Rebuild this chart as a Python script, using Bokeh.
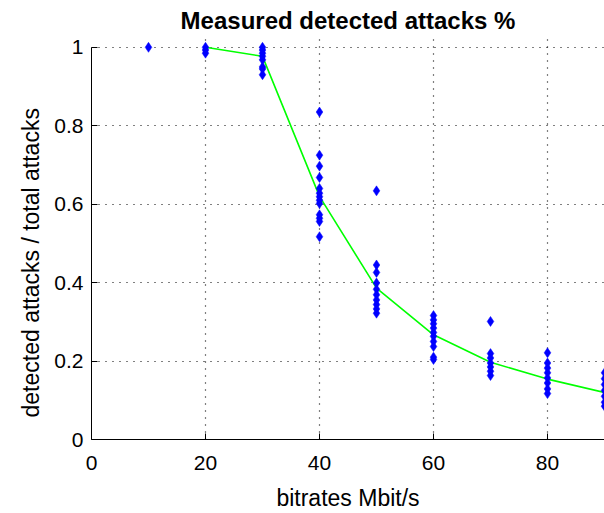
from bokeh.plotting import figure
from bokeh.models import Range1d, FixedTicker, Title
from bokeh.embed import file_html
from bokeh.resources import INLINE

# Data
bitrates = [10, 20, 30, 40, 50, 60, 70, 80, 90]
measured = {
    10: [1.0],
    20: [1.0, 0.993, 0.985],
    30: [1.0, 0.993, 0.985, 0.977, 0.968, 0.95, 0.945, 0.93],
    40: [0.835, 0.725, 0.697, 0.668, 0.64, 0.628, 0.619, 0.61, 0.602, 0.573, 0.564, 0.556, 0.517],
    50: [0.634, 0.445, 0.426, 0.399, 0.383, 0.369, 0.356, 0.344, 0.333, 0.322],
    60: [0.316, 0.305, 0.295, 0.284, 0.273, 0.263, 0.25, 0.237, 0.21, 0.204],
    70: [0.301, 0.219, 0.208, 0.195, 0.185, 0.174, 0.163],
    80: [0.221, 0.195, 0.182, 0.17, 0.157, 0.144, 0.129, 0.117],
    90: [0.17, 0.155, 0.14, 0.125, 0.11, 0.095, 0.085],
}
mean_x = [20, 30, 40, 50, 60, 70, 80, 90]
mean_y = [1.0, 0.977, 0.62, 0.386, 0.267, 0.197, 0.154, 0.12]

x_ticks = [0, 20, 40, 60, 80]
y_ticks = [0, 0.2, 0.4, 0.6, 0.8, 1.0]
y_tick_labels = ["0", "0.2", "0.4", "0.6", "0.8", "1"]
x_label = "bitrates Mbit/s"
y_label = "detected attacks / total attacks"

pts_x, pts_y = [], []
for b in bitrates:
    for v in measured[b]:
        pts_x.append(b)
        pts_y.append(v)

FONT = "Liberation Sans"

p = figure(width=604, height=513, output_backend="svg", toolbar_location=None,
           x_range=Range1d(0, 90), y_range=Range1d(0, 1.025),
           min_border_left=91, min_border_right=0, min_border_top=37, min_border_bottom=73,
           title="Measured detected attacks %")
p.outline_line_color = None
p.background_fill_color = "white"
p.border_fill_color = "white"

p.title.align = "center"
p.title.text_font = FONT
p.title.text_font_size = "24px"
p.title.text_font_style = "bold"
p.title.text_color = "black"
p.title.standoff = 8

for ax in (p.xaxis, p.yaxis):
    ax.axis_line_color = "black"
    ax.axis_line_width = 1
    ax.major_tick_in = 6
    ax.major_tick_out = 0
    ax.minor_tick_line_color = None
    ax.major_tick_line_color = "black"
    ax.major_label_text_font = FONT
    ax.major_label_text_font_size = "21px"
    ax.major_label_text_color = "black"
    ax.axis_label_text_font = FONT
    ax.axis_label_text_font_size = "23px"
    ax.axis_label_text_font_style = "normal"
    ax.axis_label_text_color = "black"

p.yaxis.bounds = (0, 1)
p.xaxis.ticker = FixedTicker(ticks=x_ticks)
p.yaxis.ticker = FixedTicker(ticks=y_ticks)
p.yaxis.major_label_overrides = {t: l for t, l in zip(y_ticks, y_tick_labels)}
p.xaxis.major_label_overrides = {t: str(t) for t in x_ticks}
p.xaxis.axis_label = x_label
p.xaxis.major_label_standoff = 16
p.yaxis.major_label_standoff = 8
p.xaxis.axis_label_standoff = 12

# y-axis title as a left Title, starting a little above the bottom like the reference
p.add_layout(Title(text=y_label, align="left", offset=22, standoff=15,
                   text_font=FONT, text_font_size="23px", text_font_style="normal",
                   text_color="black"), "left")

for g in (p.xgrid, p.ygrid):
    g.grid_line_color = "black"
    g.grid_line_dash = "1 6"
    g.grid_line_width = 1.2
    if hasattr(g, "cross_bounds"):
        g.cross_bounds = (0, 1) if g is p.xgrid else (0, 90)
p.xgrid.ticker = FixedTicker(ticks=[20, 40, 60, 80])
p.ygrid.ticker = FixedTicker(ticks=[0.2, 0.4, 0.6, 0.8, 1.0])

p.line(mean_x, mean_y, line_color="#00ff00", line_width=1.6)
p.scatter(pts_x, pts_y, marker="diamond", size=10, fill_color="#0000ff",
          line_color="#0000ff", line_width=0.5)

open("out.html", "w").write(file_html(p, INLINE))
